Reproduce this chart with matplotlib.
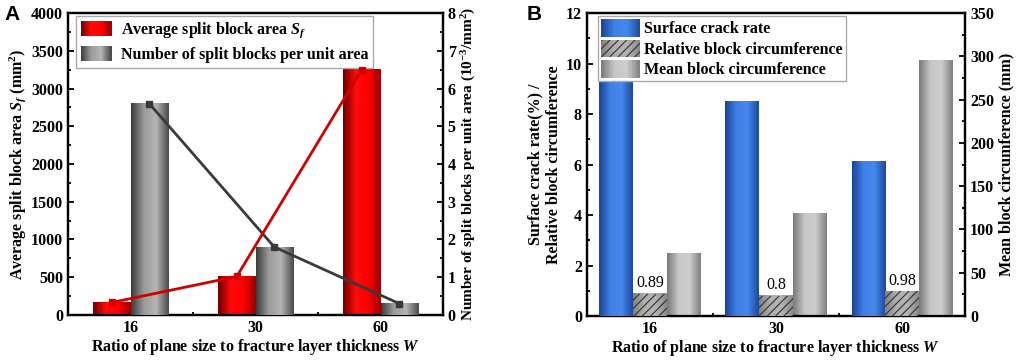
import numpy as np
import matplotlib
matplotlib.use("Agg")
import matplotlib.pyplot as plt
from matplotlib.colors import LinearSegmentedColormap
from matplotlib.legend_handler import HandlerBase
from matplotlib.patches import Rectangle
from matplotlib.ticker import MultipleLocator, FixedLocator

plt.rcParams['font.family'] = ['Liberation Serif', 'DejaVu Serif']
plt.rcParams['font.weight'] = 'bold'
plt.rcParams['axes.labelweight'] = 'bold'
plt.rcParams['mathtext.fontset'] = 'custom'
plt.rcParams['mathtext.rm'] = 'Liberation Serif:bold'
plt.rcParams['mathtext.it'] = 'Liberation Serif:bold:italic'
plt.rcParams['hatch.linewidth'] = 0.8

# data
ratios = ['16', '30', '60']
avg_area = [165, 510, 3250]          # mm^2
blocks_per_area = [5.6, 1.8, 0.3]    # 10^-3 / mm^2
crack_rate = [9.35, 8.48, 6.13]      # %
rel_circ = [0.89, 0.8, 0.98]
mean_circ = [72, 118, 295]           # mm

red_cm = LinearSegmentedColormap.from_list('r', ['#6e0000', '#ff0a0a', '#ff0000', '#9a0000'])
gray_cm = LinearSegmentedColormap.from_list('g', ['#3c3c3c', '#9a9a9a', '#b4b4b4', '#4a4a4a'])
blue_cm = LinearSegmentedColormap.from_list('b', ['#1b4597', '#3f7fe6', '#4688ee', '#1e4a9c'])
lgray_cm = LinearSegmentedColormap.from_list('lg', ['#7a7a7a', '#c6c6c6', '#cdcdcd', '#808080'])
hatch_cm = LinearSegmentedColormap.from_list('h', ['#808080', '#b0b0b0', '#b4b4b4', '#8a8a8a'])

grad = np.linspace(0, 1, 64).reshape(1, -1)
FS = 11.5


def shade(ax, bars, cmap):
    for b in bars:
        x, w, h = b.get_x(), b.get_width(), b.get_height()
        ax.imshow(grad, cmap=cmap, extent=(x, x + w, 0, h), aspect='auto',
                  zorder=b.get_zorder() - 0.1, interpolation='bilinear')


class GradHandler(HandlerBase):
    def __init__(self, cmap, hatch=None):
        self.cmap = cmap
        self.hatch = hatch
        super().__init__()

    def create_artists(self, legend, orig, xd, yd, w, h, fs, trans):
        n = 30
        arts = []
        for i in range(n):
            arts.append(Rectangle((-xd + w * i / n, -yd), w / n * 1.1, h,
                                  facecolor=self.cmap((i + 0.5) / n),
                                  edgecolor='none', transform=trans))
        if self.hatch:
            arts.append(Rectangle((-xd, -yd), w, h, facecolor='none', hatch=self.hatch,
                                  edgecolor='#333333', lw=0, transform=trans))
        return arts


def style(ax):
    ax.tick_params(direction='in', which='both', labelsize=FS, width=1.3)
    ax.tick_params(which='major', length=4)
    ax.tick_params(which='minor', length=2.5)
    plt.setp(ax.get_xticklabels() + ax.get_yticklabels(), fontweight='bold')
    for s in ax.spines.values():
        s.set_linewidth(1.6)


fig = plt.figure(figsize=(10.17, 3.62), dpi=100)
x = np.arange(len(ratios))

# ---------- panel A ----------
axA = fig.add_axes([0.0669, 0.130, 0.3687, 0.834])
axA2 = axA.twinx()
w = 0.3
bA = axA.bar(x - w / 2, avg_area, w, color='none', zorder=3)
shade(axA, bA, red_cm)
bA2 = axA2.bar(x + w / 2, blocks_per_area, w, color='none', zorder=3)
shade(axA2, bA2, gray_cm)
axA2.plot(x + w / 2, blocks_per_area, color='#3a3a3a', lw=2, marker='s', ms=5, zorder=5)
axA2.plot(x - w / 2, avg_area, color='#cf0000', lw=2, marker='s', ms=5, zorder=6,
          transform=axA.transData)

axA.set_xlim(-0.5, 2.5)
axA.set_ylim(0, 4000)
axA2.set_ylim(0, 8)
axA.set_xticks(x, ratios)
axA.xaxis.set_minor_locator(FixedLocator([0.5, 1.5]))
axA.yaxis.set_major_locator(MultipleLocator(500))
axA.yaxis.set_minor_locator(MultipleLocator(250))
axA2.yaxis.set_major_locator(MultipleLocator(1))
axA2.yaxis.set_minor_locator(MultipleLocator(0.5))
style(axA)
style(axA2)
axA.set_xlabel('Ratio of plane size to fracture layer thickness $\\mathit{W}$', fontsize=FS, labelpad=1)
axA.set_ylabel('Average split block area $\\mathit{S_f}$ (mm$^2$)', fontsize=FS, labelpad=2)
axA2.set_ylabel('Number of split blocks per unit area (10$^{-3}$/mm$^2$)', fontsize=11, labelpad=3)
axA.legend([bA, bA2], ['Average split block area $\\mathit{S_f}$', 'Number of split blocks per unit area'],
           handler_map={bA: GradHandler(red_cm), bA2: GradHandler(gray_cm)},
           loc='upper left', bbox_to_anchor=(0.022, 0.99), borderaxespad=0, fontsize=FS,
           frameon=True, fancybox=False, edgecolor='#aaaaaa', framealpha=1, borderpad=0.3,
           handlelength=1.9, handleheight=1.1, handletextpad=0.6, labelspacing=0.35)
fig.text(0.004, 0.985, 'A', fontsize=15, fontweight='bold', family='Liberation Sans', va='top')

# ---------- panel B ----------
axB = fig.add_axes([0.577, 0.127, 0.372, 0.837])
axB2 = axB.twinx()
w = 0.267
bB1 = axB.bar(x - w, crack_rate, w, color='none', zorder=3)
shade(axB, bB1, blue_cm)
bB2 = axB.bar(x, rel_circ, w, color='none', hatch='////', edgecolor='#333333', lw=0, zorder=3)
shade(axB, bB2, hatch_cm)
bB3 = axB2.bar(x + w, mean_circ, w, color='none', zorder=3)
shade(axB2, bB3, lgray_cm)
for xi, v in zip(x, rel_circ):
    axB.annotate(f'{v:g}', (xi, v), xytext=(0, 2), textcoords='offset points',
                 ha='center', va='bottom', fontsize=FS, fontweight='normal', zorder=6,
                 bbox=dict(facecolor='white', edgecolor='none', pad=0.5))

axB.set_xlim(-0.5, 2.5)
axB.set_ylim(0, 12)
axB2.set_ylim(0, 350)
axB.set_xticks(x, ratios)
axB.xaxis.set_minor_locator(FixedLocator([0.5, 1.5]))
axB.yaxis.set_major_locator(MultipleLocator(2))
axB.yaxis.set_minor_locator(MultipleLocator(1))
axB2.yaxis.set_major_locator(MultipleLocator(50))
axB2.yaxis.set_minor_locator(MultipleLocator(25))
style(axB)
style(axB2)
axB.set_xlabel('Ratio of plane size to fracture layer thickness $\\mathit{W}$', fontsize=FS, labelpad=1)
axB.set_ylabel('Surface crack rate(%) /\nRelative block circumference', fontsize=FS, labelpad=3)
axB2.set_ylabel('Mean block circumference (mm)', fontsize=FS, labelpad=3)
axB.legend([bB1, bB2, bB3], ['Surface crack rate', 'Relative block circumference', 'Mean block circumference'],
           handler_map={bB1: GradHandler(blue_cm), bB2: GradHandler(hatch_cm, '////'),
                        bB3: GradHandler(lgray_cm)},
           loc='upper left', bbox_to_anchor=(0.03, 0.99), borderaxespad=0, fontsize=FS,
           frameon=True, fancybox=False, edgecolor='#aaaaaa', framealpha=1, borderpad=0.2,
           handlelength=2.4, handleheight=1.3, handletextpad=0.3, labelspacing=0.15)
axB2.set_zorder(axB.zorder - 1)
axB.patch.set_visible(False)
axB2.patch.set_visible(True)
fig.text(0.518, 0.985, 'B', fontsize=15, fontweight='bold', family='Liberation Sans', va='top')

fig.savefig('out.png', dpi=100)
